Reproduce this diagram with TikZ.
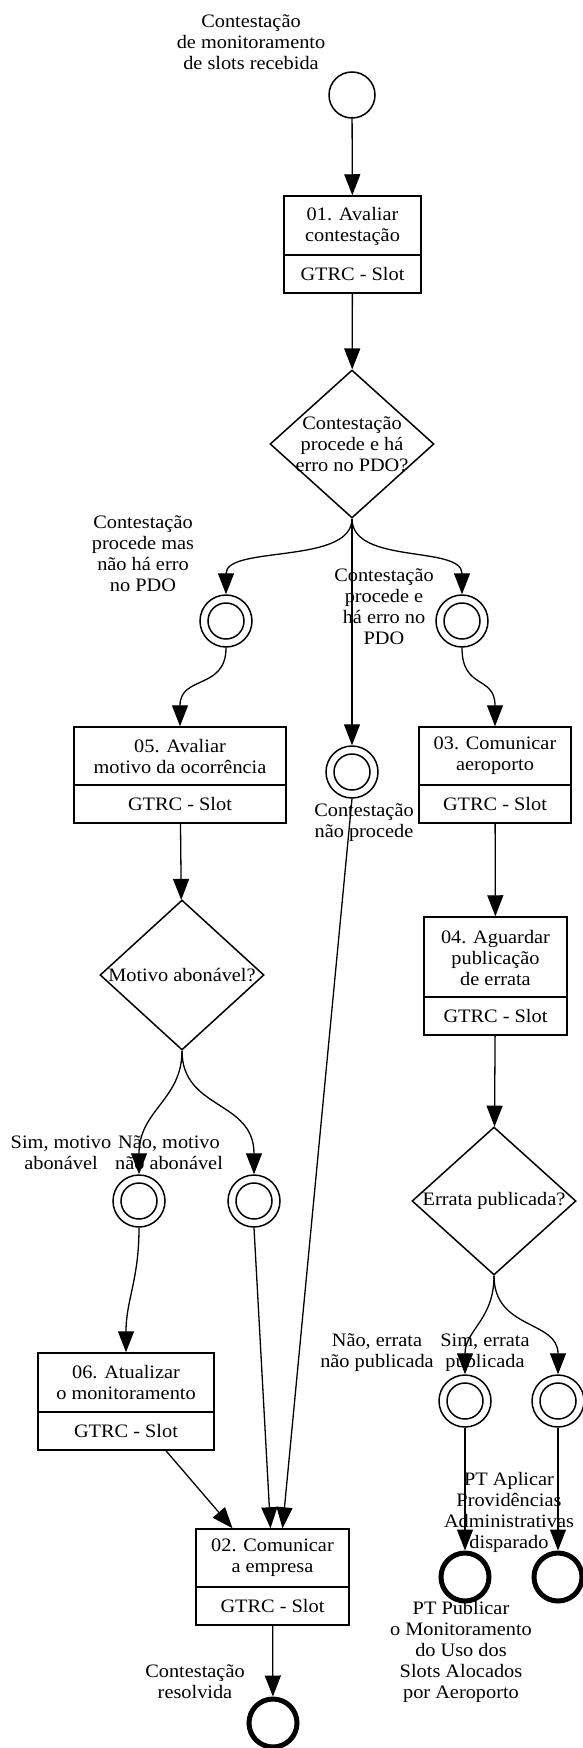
\documentclass[tikz,border=0pt]{standalone}
\usepackage{fontspec}
\setmainfont[FakeStretch=1.07]{Liberation Serif}
\usetikzlibrary{arrows.meta,shapes.geometric}
\tikzset{
  every node/.style={font=\fontsize{19}{21}\selectfont},
  lbl/.style={align=center, inner sep=0pt},
  flow/.style={-{Triangle[length=21pt,width=16pt]}, line width=1.3pt},
  taskbox/.style={draw, rectangle, line width=1.5pt, inner sep=0pt},
  gw/.style={draw, diamond, line width=1.5pt, inner sep=0pt, minimum width=164pt, minimum height=148pt},
  startev/.style={draw, circle, line width=1.5pt, minimum size=46pt, inner sep=0pt},
  midev/.style={draw, circle, line width=1.5pt, minimum size=52pt, inner sep=0pt},
  endev/.style={draw, circle, line width=5pt, minimum size=48pt, inner sep=0pt, outer sep=2.5pt},
}
\begin{document}
\begin{tikzpicture}[x=1pt,y=-1pt]
\useasboundingbox (0,0) rectangle (583,1748);

% start
\node[startev] (start) at (352,95) {};
\node[lbl] (lstart) at (251,42) {Contestação\\de monitoramento\\de slots recebida};

% task 01
\node[taskbox, minimum width=137pt, minimum height=97pt] (t01) at (352.5,244.5) {};
\draw[line width=1.5pt] (t01.west |- 0,255) -- (t01.east |- 0,255);
\node[lbl] (t01t) at (352.5,226) {01. Avaliar\\contestação};
\node[lbl] (t01s) at (352.5,274) {GTRC - Slot};

% gateway 1
\node[gw] (d1) at (352,444) {};
\node[lbl] (d1t) at (352,444) {Contestação\\procede e há\\erro no PDO?};

% intermediate events
\node[midev] (eA) at (226,621) {};
\node[midev] (eB) at (352,772) {};
\node[midev] (eC) at (462,621) {};
\node[lbl] (lA) at (143,553.5) {Contestação\\procede mas\\não há erro\\no PDO};
\node[lbl] (lC) at (384,607) {Contestação\\procede e\\há erro no\\PDO};
\node[lbl] (lB) at (364,822.5) {Contestação\\não procede};

% task 05
\node[taskbox, minimum width=212pt, minimum height=96pt] (t05) at (180,775) {};
\draw[line width=1.5pt] (t05.west |- 0,785) -- (t05.east |- 0,785);
\node[lbl] (t05t) at (180,756) {05. Avaliar\\motivo da ocorrência};
\node[lbl] (t05s) at (180,804) {GTRC - Slot};

% task 03
\node[taskbox, minimum width=152pt, minimum height=96pt] (t03) at (495,775) {};
\draw[line width=1.5pt] (t03.west |- 0,785) -- (t03.east |- 0,785);
\node[lbl] (t03t) at (495,756) {03. Comunicar\\aeroporto};
\node[lbl] (t03s) at (495,804) {GTRC - Slot};

% gateway 2
\node[gw, minimum height=150pt] (d2) at (182,975) {};
\node[lbl] (d2t) at (182,975) {Motivo abonável?};

% task 04
\node[taskbox, minimum width=143pt, minimum height=118pt] (t04) at (495.5,976) {};
\draw[line width=1.5pt] (t04.west |- 0,997) -- (t04.east |- 0,997);
\node[lbl] (t04t) at (495.5,958) {04. Aguardar\\publicação\\de errata};
\node[lbl] (t04s) at (495.5,1016) {GTRC - Slot};

% gateway 3
\node[gw] (d3) at (494,1201) {};
\node[lbl] (d3t) at (494,1201) {Errata publicada?};

% events after gateway 2
\node[midev] (eD) at (139,1201) {};
\node[midev] (eE) at (254,1201) {};
\node[lbl] (lD) at (61,1153) {Sim, motivo\\abonável};
\node[lbl] (lE) at (169,1153) {Não, motivo\\não abonável};

% task 06
\node[taskbox, minimum width=176pt, minimum height=97pt] (t06) at (126,1401.5) {};
\draw[line width=1.5pt] (t06.west |- 0,1412) -- (t06.east |- 0,1412);
\node[lbl] (t06t) at (126,1382.5) {06. Atualizar\\o monitoramento};
\node[lbl] (t06s) at (126,1431) {GTRC - Slot};

% task 02
\node[taskbox, minimum width=153pt, minimum height=96pt] (t02) at (272.5,1577) {};
\draw[line width=1.5pt] (t02.west |- 0,1587) -- (t02.east |- 0,1587);
\node[lbl] (t02t) at (272.5,1558) {02. Comunicar\\a empresa};
\node[lbl] (t02s) at (272.5,1606) {GTRC - Slot};

% end resolved
\node[endev] (endR) at (273,1723) {};
\node[lbl] (lR) at (195,1681.5) {Contestação\\resolvida};

% events after gateway 3
\node[midev] (eF) at (465,1401) {};
\node[midev] (eG) at (558,1401) {};
\node[lbl] (lF) at (377,1353) {Não, errata\\não publicada};
\node[lbl] (lG) at (485,1353) {Sim, errata\\publicada};

\node[endev] (endH) at (465,1577) {};
\node[endev] (endI) at (558,1577) {};
\node[lbl] (lI) at (509,1512.5) {PT Aplicar\\Providências\\Administrativas\\disparado};
\node[lbl] (lH) at (461,1652) {PT Publicar\\o Monitoramento\\do Uso dos\\Slots Alocados\\por Aeroporto};

% inner rings of intermediate events
\foreach \n in {eA,eB,eC,eD,eE,eF,eG}
  \draw[line width=1.5pt] (\n.center) circle (18pt);

% connectors
\draw[flow] (start) -- (t01);
\draw[flow] (t01) -- (d1);
\draw[flow] (d1.south) .. controls (352,565) and (226,545) .. (eA.north);
\draw[flow] (d1.south) -- (eB.north);
\draw[flow] (d1.south) .. controls (352,565) and (462,545) .. (eC.north);
\draw[flow] (eA.south) .. controls (226,690) and (180,675) .. (t05.north);
\draw[flow] (eC.south) .. controls (462,690) and (495,675) .. (t03.north);
\draw[flow] (t05) -- (d2);
\draw[flow] (t03) -- (t04);
\draw[flow] (t04) -- (d3);
\draw[flow] (d2.south) .. controls (182,1100) and (139,1110) .. (eD.north);
\draw[flow] (d2.south) .. controls (182,1110) and (254,1100) .. (eE.north);
\draw[flow] (eD.south) .. controls (139,1280) and (126,1300) .. (t06.north);
\draw[flow] (eE.south) -- ([xshift=-2pt]t02.north);
\draw[flow] (eB.south) -- ([xshift=10pt]t02.north);
\draw[flow] ([xshift=40pt]t06.south) -- ([xshift=-40pt]t02.north);
\draw[flow] (t02) -- (endR);
\draw[flow] (d3.south) .. controls (494,1320) and (465,1330) .. (eF.north);
\draw[flow] (d3.south) .. controls (494,1330) and (558,1320) .. (eG.north);
\draw[flow] (eF) -- (endH);
\draw[flow] (eG) -- (endI);
\end{tikzpicture}
\end{document}
